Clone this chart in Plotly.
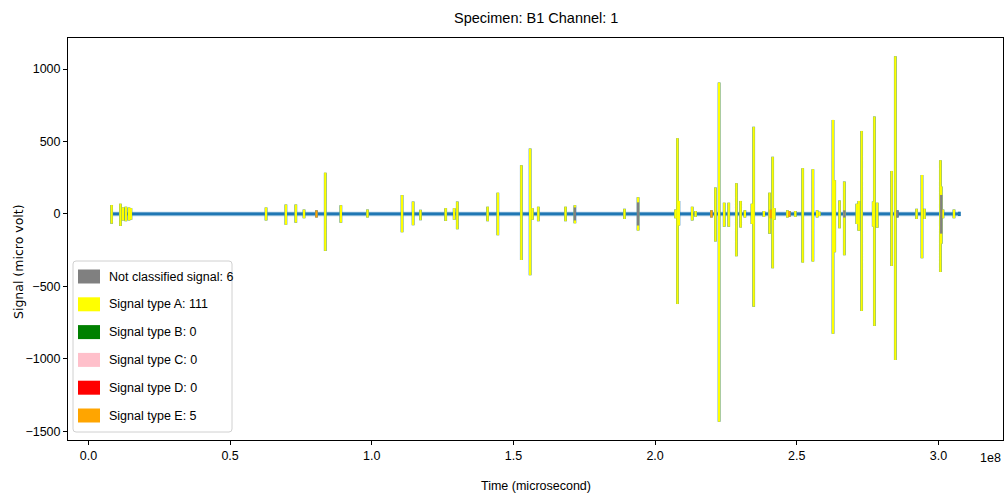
import plotly.graph_objects as go

# ---- acoustic emission hits (time in units of 1e8 microseconds, peaks in micro volt) ----
hit_time_1e8 = [
    0.082, 0.113, 0.122, 0.132, 0.143, 0.150,
    0.627, 0.697, 0.732, 0.761, 0.805, 0.836, 0.891, 0.985,
    1.107, 1.146, 1.172, 1.261, 1.291, 1.302, 1.409, 1.445,
    1.528, 1.559, 1.567, 1.588, 1.684, 1.717, 1.717, 1.892,
    1.940, 1.940,
    2.072, 2.079, 2.084, 2.131, 2.143, 2.199, 2.213, 2.226,
    2.244, 2.260, 2.287, 2.302, 2.317, 2.342, 2.348, 2.384,
    2.404, 2.408, 2.415, 2.421, 2.467, 2.474, 2.495,
    2.521, 2.557, 2.572, 2.580, 2.628, 2.634, 2.651,
    2.668, 2.668, 2.712, 2.719, 2.729, 2.770, 2.774, 2.784,
    2.835, 2.848, 2.855, 2.923, 2.942, 2.951,
    3.007, 3.010, 3.010, 3.016, 3.055, 3.074,
]
hit_peak_pos = [
    62, 71, 45, 50, 45, 40,
    45, 65, 65, 30, 25, 285, 60, 30,
    130, 85, 28, 40, 40, 85, 50, 147,
    336, 451, 40, 50, 50, 60, 45, 35,
    115, 80,
    30, 523, 90, 50, 20, 25, 182, 907,
    78, 78, 212, 90, 25, 71, 601, 20,
    147, 30, 394, 40, 25, 20, 20,
    316, 309, 25, 15, 649, 233, 92,
    223, 25, 70, 90, 573, 85, 672, 78,
    297, 1088, 25, 35, 269, 35,
    371, 190, 131, 30, 30, 15,
]
hit_peak_neg = [
    -67, -83, -45, -50, -45, -40,
    -45, -75, -60, -30, -25, -255, -60, -25,
    -127, -78, -43, -48, -40, -106, -50, -147,
    -318, -423, -40, -50, -50, -65, -45, -35,
    -115, -80,
    -30, -622, -80, -45, -20, -25, -190, -1434,
    -88, -88, -292, -94, -25, -69, -640, -20,
    -136, -30, -375, -40, -25, -20, -20,
    -336, -329, -25, -15, -827, -265, -99,
    -285, -25, -70, -116, -670, -87, -773, -95,
    -359, -1008, -25, -35, -306, -35,
    -401, -205, -136, -30, -30, -15,
]
# class code of each hit ("" = raw waveform only, no classification overlay)
hit_class = [
    "A", "A", "A", "A", "A", "A",
    "A", "A", "A", "A", "E", "A", "A", "A",
    "A", "A", "A", "A", "A", "A", "A", "A",
    "A", "A", "A", "A", "A", "A", "N", "A",
    "A", "N",
    "A", "A", "A", "A", "A", "E", "A", "A",
    "A", "A", "A", "A", "A", "A", "A", "A",
    "A", "E", "A", "A", "A", "E", "A",
    "A", "A", "A", "A", "A", "A", "A",
    "A", "N", "A", "A", "A", "A", "A", "A",
    "A", "A", "N", "A", "A", "A",
    "A", "A", "N", "A", "A", "",
]

record_start_1e8 = 0.078
record_end_1e8 = 3.078

class_codes = ["N", "A", "B", "C", "D", "E"]
class_names = ["Not classified signal", "Signal type A", "Signal type B",
               "Signal type C", "Signal type D", "Signal type E"]
class_counts = [6, 111, 0, 0, 0, 5]
class_colors = ["gray", "yellow", "green", "pink", "red", "orange"]
overlay_order = ["A", "B", "C", "D", "E", "N"]

x_ticks_1e8 = [0.0, 0.5, 1.0, 1.5, 2.0, 2.5, 3.0]
y_ticks = [-1500, -1000, -500, 0, 500, 1000]

SCALE = 1e8
SANS = "Liberation Sans, Arial, sans-serif"
REGULAR = "DejaVu Sans, sans-serif"

W, H = 1006, 497
L, R, T, B = 68, 3, 38, 57
PW, PH = W - L - R, H - T - B


def px_x(x):
    return (x - L) / PW


def px_y(y):
    return (H - B - y) / PH


# ---- raw waveform: baseline with an excursion at every hit ----
order = sorted(range(len(hit_time_1e8)), key=lambda i: hit_time_1e8[i])
wx, wy = [record_start_1e8 * SCALE], [0]
for i in order:
    t = hit_time_1e8[i] * SCALE
    wx += [t, t, t, t]
    wy += [0, hit_peak_pos[i], hit_peak_neg[i], 0]
wx.append(record_end_1e8 * SCALE)
wy.append(0)

fig = go.Figure()
# soft halo along the quiet baseline
fig.add_trace(go.Scatter(x=[record_start_1e8 * SCALE, record_end_1e8 * SCALE], y=[0, 0],
                         mode="lines", hoverinfo="skip",
                         line=dict(color="rgba(31,119,180,0.4)", width=4.5),
                         showlegend=False))
fig.add_trace(go.Scatter(x=wx, y=wy, mode="lines",
                         line=dict(color="#1f77b4", width=2.8),
                         showlegend=False, name="Signal"))

# ---- classified hit overlays ----
for code in overlay_order:
    color = class_colors[class_codes.index(code)]
    xs, ys = [], []
    for i in order:
        if hit_class[i] == code:
            t = hit_time_1e8[i] * SCALE
            xs += [t, t, None]
            ys += [hit_peak_pos[i], hit_peak_neg[i], None]
    if xs:
        fig.add_trace(go.Scatter(x=xs, y=ys, mode="lines",
                                 line=dict(color=color, width=2.3),
                                 showlegend=False,
                                 name=class_names[class_codes.index(code)]))

# autoscale with 5 % margins
all_x = [record_start_1e8 * SCALE, record_end_1e8 * SCALE]
x_pad = 0.05 * (all_x[1] - all_x[0])
y_lo, y_hi = min(hit_peak_neg), max(hit_peak_pos)
y_pad = 0.05 * (y_hi - y_lo)

axis_common = dict(showline=True, linecolor="black", linewidth=1, mirror=True,
                   ticks="outside", ticklen=4, tickwidth=1, tickcolor="black",
                   showgrid=False, zeroline=False,
                   tickfont=dict(family=SANS, size=12.5, color="black"))

fig.update_xaxes(range=[all_x[0] - x_pad, all_x[1] + x_pad],
                 tickvals=[v * SCALE for v in x_ticks_1e8],
                 ticktext=[f"{v:.1f}" for v in x_ticks_1e8], **axis_common)
fig.update_yaxes(range=[y_lo - y_pad, y_hi + y_pad],
                 tickvals=y_ticks,
                 ticktext=[str(v).replace("-", "\u2212") for v in y_ticks],
                 **axis_common)

annotations = [
    dict(text="Specimen: B1 Channel: 1", x=0.5, y=px_y(18), xref="paper", yref="paper",
         showarrow=False, xanchor="center", yanchor="middle",
         font=dict(family=SANS, size=14.5, color="black")),
    dict(text="Time (microsecond)", x=0.5, y=px_y(486), xref="paper", yref="paper",
         showarrow=False, xanchor="center", yanchor="middle",
         font=dict(family=SANS, size=12.5, color="black")),
    dict(text="1e8", x=px_x(1003), y=px_y(458), xref="paper", yref="paper",
         showarrow=False, xanchor="right", yanchor="middle",
         font=dict(family=SANS, size=12.5, color="black")),
    dict(text="Signal (micro volt)", x=px_x(18), y=px_y(262), xref="paper", yref="paper",
         showarrow=False, xanchor="center", yanchor="middle", textangle=-90,
         font=dict(family=REGULAR, size=12.5, color="black")),
]

# ---- legend box (lower left) ----
shapes = []
bx0, bx1, by0, by1, rr = 73, 232, 261, 432, 3
path = (f"M {px_x(bx0 + rr)},{px_y(by0)} L {px_x(bx1 - rr)},{px_y(by0)} "
        f"Q {px_x(bx1)},{px_y(by0)} {px_x(bx1)},{px_y(by0 + rr)} "
        f"L {px_x(bx1)},{px_y(by1 - rr)} Q {px_x(bx1)},{px_y(by1)} {px_x(bx1 - rr)},{px_y(by1)} "
        f"L {px_x(bx0 + rr)},{px_y(by1)} Q {px_x(bx0)},{px_y(by1)} {px_x(bx0)},{px_y(by1 - rr)} "
        f"L {px_x(bx0)},{px_y(by0 + rr)} Q {px_x(bx0)},{px_y(by0)} {px_x(bx0 + rr)},{px_y(by0)} Z")
shapes.append(dict(type="path", path=path, xref="paper", yref="paper",
                   fillcolor="rgba(255,255,255,0.8)", line=dict(color="#d0d0d0", width=1)))
row_y0, row_pitch = 276.5, 27.8
for k, (name, count, color) in enumerate(zip(class_names, class_counts, class_colors)):
    cy = row_y0 + k * row_pitch
    shapes.append(dict(type="rect", xref="paper", yref="paper",
                       x0=px_x(78), x1=px_x(100), y0=px_y(cy - 7), y1=px_y(cy + 7),
                       fillcolor=color, line=dict(width=0)))
    annotations.append(dict(text=f"{name}: {count}", x=px_x(107), y=px_y(cy),
                            xref="paper", yref="paper", showarrow=False,
                            xanchor="left", yanchor="middle",
                            font=dict(family=SANS, size=12.5, color="black")))

fig.update_layout(width=W, height=H, margin=dict(l=L, r=R, t=T, b=B),
                  paper_bgcolor="white", plot_bgcolor="white",
                  showlegend=False, annotations=annotations, shapes=shapes)

fig.write_html("out.html")
